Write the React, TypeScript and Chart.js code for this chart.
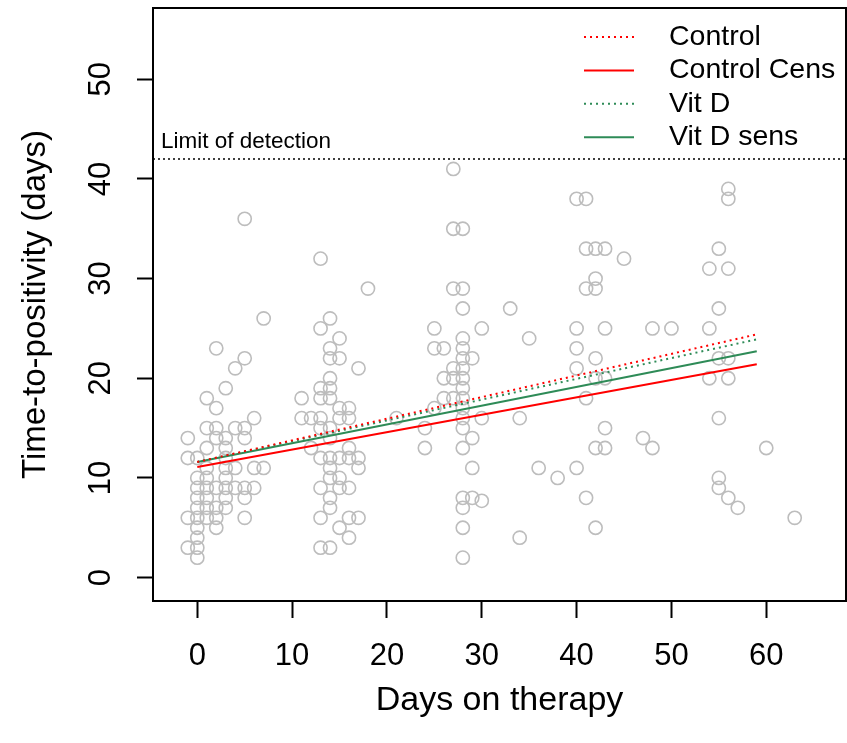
import { useEffect, useRef } from "react";
import { Chart, registerables } from "chart.js";

Chart.register(...registerables);

// ---- data ----
const days: number[] = [
  -1, -1, -1, -1,
  0, 0, 0, 0, 0, 0, 0, 0, 0, 0,
  1, 1, 1, 1, 1, 1, 1, 1, 1,
  2, 2, 2, 2, 2, 2, 2, 2,
  3, 3, 3, 3, 3, 3, 3, 3, 3,
  4, 4, 4, 4,
  5, 5, 5, 5, 5, 5, 5,
  6, 6, 6,
  7, 7,
  11, 11,
  12, 12,
  13, 13, 13, 13, 13, 13, 13, 13, 13, 13,
  14, 14, 14, 14, 14, 14, 14, 14, 14, 14, 14, 14, 14, 14,
  15, 15, 15, 15, 15, 15, 15, 15,
  16, 16, 16, 16, 16, 16, 16,
  17, 17, 17, 17,
  18,
  21,
  24, 24,
  25, 25, 25,
  26, 26, 26,
  27, 27, 27, 27, 27, 27,
  28, 28, 28, 28, 28, 28, 28, 28, 28, 28, 28, 28, 28, 28, 28, 28, 28, 28,
  29, 29, 29, 29,
  30, 30, 30,
  33,
  34, 34,
  35,
  36,
  38,
  40, 40, 40, 40, 40,
  41, 41, 41, 41, 41,
  42, 42, 42, 42, 42, 42, 42,
  43, 43, 43, 43, 43,
  45,
  47,
  48, 48,
  50,
  54, 54, 54,
  55, 55, 55, 55, 55, 55,
  56, 56, 56, 56, 56, 56,
  57,
  60,
  63,
];

const timeToPositivity: number[] = [
  14, 12, 6, 3,
  12, 10, 9, 8, 7, 6, 5, 4, 3, 2,
  18, 15, 13, 11, 10, 9, 8, 7, 6,
  23, 17, 15, 14, 9, 7, 6, 5,
  19, 14, 13, 12, 11, 10, 9, 8, 7,
  21, 15, 11, 9,
  36, 22, 15, 14, 9, 8, 6,
  16, 11, 9,
  26, 11,
  18, 16,
  16, 13,
  32, 25, 19, 18, 16, 15, 12, 9, 6, 3,
  26, 23, 22, 20, 19, 18, 15, 14, 12, 11, 10, 8, 7, 3,
  24, 22, 17, 16, 12, 10, 9, 5,
  17, 16, 13, 12, 9, 6, 4,
  21, 12, 11, 6,
  29,
  16,
  15, 13,
  25, 23, 17,
  23, 20, 18,
  41, 35, 29, 21, 20, 18,
  35, 29, 27, 24, 23, 22, 21, 20, 19, 18, 17, 16, 15, 13, 8, 7, 5, 2,
  22, 14, 11, 8,
  25, 16, 7.7,
  27,
  16, 4,
  24,
  11,
  10,
  38, 25, 23, 21, 11,
  38, 33, 29, 18, 8,
  33, 30, 29, 22, 20, 13, 5,
  33, 25, 20, 15, 13,
  32,
  14,
  25, 13,
  25,
  31, 25, 20,
  33, 27, 22, 16, 10, 9,
  39, 38, 31, 22, 20, 8,
  7,
  13,
  6,
];

const fitDays: number[] = [0, 59];
const controlFit: number[] = [11.6, 24.4];
const controlCensFit: number[] = [11.1, 21.4];
const vitDFit: number[] = [11.6, 23.9];
const vitDSensFit: number[] = [11.6, 22.7];

const detectionLimit = 42;
const detectionLabel = "Limit of detection";

const xTicks: number[] = [0, 10, 20, 30, 40, 50, 60];
const yTicks: number[] = [0, 10, 20, 30, 40, 50];
const xMin = -4.67;
const xMax = 68.41;
const yMin = -2.35;
const yMax = 57.15;

const xTitle = "Days on therapy";
const yTitle = "Time-to-positivity (days)";

const legendLabels: string[] = ["Control", "Control Cens", "Vit D", "Vit D sens"];
const RED = "#ff0000";
const GREEN = "#2e8b57";
const legendColors: string[] = [RED, RED, GREEN, GREEN];
const legendDotted: boolean[] = [true, false, true, false];

const FONT = "'Liberation Sans', Arial, Helvetica, sans-serif";
const DOT: number[] = [2, 4];

const zeroPad = (s: any) => {
  s.paddingTop = 0;
  s.paddingBottom = 0;
  s.paddingLeft = 0;
  s.paddingRight = 0;
};

export default function App() {
  const canvasRef = useRef<HTMLCanvasElement | null>(null);

  useEffect(() => {
    const canvas = canvasRef.current;
    if (!canvas) return;

    const points = days.map((d, i) => ({ x: d, y: timeToPositivity[i] }));
    const fitLine = (vals: number[]) => fitDays.map((d, i) => ({ x: d, y: vals[i] }));

    const overlayPlugin = {
      id: "overlay",
      afterDraw(chart: any) {
        const { ctx, chartArea } = chart;
        const ys = chart.scales.y;
        ctx.save();
        // box
        ctx.strokeStyle = "#000";
        ctx.lineWidth = 2;
        ctx.setLineDash([]);
        ctx.strokeRect(chartArea.left, chartArea.top, chartArea.right - chartArea.left, chartArea.bottom - chartArea.top);

        // limit label
        ctx.fillStyle = "#000";
        ctx.font = `22.5px ${FONT}`;
        ctx.textAlign = "left";
        ctx.textBaseline = "alphabetic";
        ctx.fillText(detectionLabel, chartArea.left + 8, ys.getPixelForValue(detectionLimit) - 11);

        // legend
        const lx0 = chartArea.right - 262;
        const lx1 = lx0 + 50;
        const tx = lx0 + 85;
        const ty0 = chartArea.top + 29;
        const dy = 33.4;
        ctx.font = `28.5px ${FONT}`;
        ctx.textBaseline = "middle";
        legendLabels.forEach((lab, i) => {
          const yy = ty0 + i * dy;
          ctx.beginPath();
          ctx.strokeStyle = legendColors[i];
          ctx.lineWidth = 2;
          ctx.setLineDash(legendDotted[i] ? DOT : []);
          ctx.moveTo(lx0, yy);
          ctx.lineTo(lx1, yy);
          ctx.stroke();
          ctx.fillStyle = "#000";
          ctx.fillText(lab, tx, yy);
        });
        ctx.restore();
      },
    };

    const chart = new Chart(canvas, {
      type: "scatter",
      data: {
        datasets: [
          {
            type: "line",
            label: legendLabels[0],
            data: fitLine(controlFit),
            borderColor: RED,
            borderWidth: 2,
            borderDash: DOT,
            pointRadius: 0,
            showLine: true,
            order: 1,
          },
          {
            type: "line",
            label: legendLabels[1],
            data: fitLine(controlCensFit),
            borderColor: RED,
            borderWidth: 2,
            pointRadius: 0,
            showLine: true,
            order: 2,
          },
          {
            type: "line",
            label: legendLabels[2],
            data: fitLine(vitDFit),
            borderColor: GREEN,
            borderWidth: 2,
            borderDash: DOT,
            pointRadius: 0,
            showLine: true,
            order: 3,
          },
          {
            type: "line",
            label: legendLabels[3],
            data: fitLine(vitDSensFit),
            borderColor: GREEN,
            borderWidth: 2,
            pointRadius: 0,
            showLine: true,
            order: 4,
          },
          {
            type: "line",
            label: detectionLabel,
            data: [
              { x: xMin, y: detectionLimit },
              { x: xMax, y: detectionLimit },
            ],
            borderColor: "#000",
            borderWidth: 1.6,
            borderDash: [2, 3],
            pointRadius: 0,
            showLine: true,
            order: 5,
          },
          {
            type: "scatter",
            label: "TTP",
            data: points,
            pointRadius: 6.6,
            pointBorderWidth: 1.6,
            pointBorderColor: "#bdbdbd",
            pointBackgroundColor: "rgba(0,0,0,0)",
            order: 10,
          },
        ],
      } as any,
      options: {
        responsive: false,
        maintainAspectRatio: false,
        animation: false,
        events: [],
        layout: { autoPadding: false, padding: { top: 8, right: 1, left: 0, bottom: 0 } },
        plugins: {
          legend: { display: false },
          tooltip: { enabled: false },
          title: { display: false },
        },
        scales: {
          x: {
            type: "linear",
            min: xMin,
            max: xMax,
            afterBuildTicks: (s: any) => {
              s.ticks = xTicks.map((v) => ({ value: v }));
            },
            afterFit: (s: any) => {
              s.height = 142;
              zeroPad(s);
            },
            grid: {
              drawOnChartArea: false,
              drawTicks: true,
              tickLength: 17,
              tickWidth: 2,
              tickColor: "#000",
            },
            border: { display: true, color: "#000", width: 2 },
            ticks: {
              autoSkip: false,
              maxRotation: 0,
              minRotation: 0,
              padding: 20,
              color: "#000",
              font: { family: FONT, size: 31 },
            },
            title: {
              display: true,
              text: xTitle,
              color: "#000",
              font: { family: FONT, size: 34 },
              padding: { top: 0, bottom: 22 },
            },
          },
          y: {
            type: "linear",
            min: yMin,
            max: yMax,
            afterBuildTicks: (s: any) => {
              s.ticks = yTicks.map((v) => ({ value: v }));
            },
            afterFit: (s: any) => {
              s.width = 153;
              zeroPad(s);
            },
            grid: {
              drawOnChartArea: false,
              drawTicks: true,
              tickLength: 16,
              tickWidth: 2,
              tickColor: "#000",
            },
            border: { display: true, color: "#000", width: 2 },
            ticks: {
              autoSkip: false,
              minRotation: 90,
              maxRotation: 90,
              crossAlign: "center",
              padding: 18,
              color: "#000",
              font: { family: FONT, size: 31 },
            },
            title: {
              display: true,
              text: yTitle,
              color: "#000",
              font: { family: FONT, size: 33 },
              padding: { top: 16, bottom: 0 },
            },
          },
        },
      } as any,
      plugins: [overlayPlugin],
    });

    return () => {
      chart.destroy();
    };
  }, []);

  return (
    <div style={{ position: "fixed", left: 0, top: 0, width: 847, height: 743, background: "#fff" }}>
      <canvas ref={canvasRef} width={847} height={743} style={{ display: "block", width: 847, height: 743 }} />
    </div>
  );
}
